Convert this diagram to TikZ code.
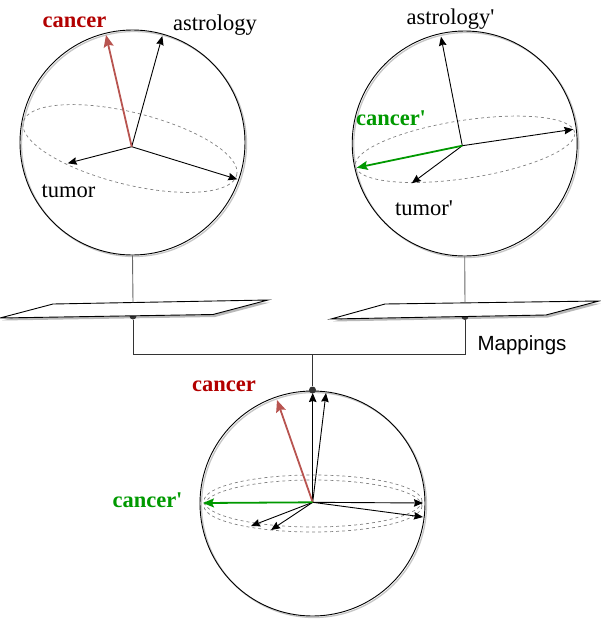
\documentclass[tikz,border=0pt]{standalone}
\usepackage{fontspec}
\setmainfont{Liberation Serif}
\newfontfamily\sansf{Liberation Sans}
\usetikzlibrary{arrows.meta}
\definecolor{redtxt}{HTML}{B20000}
\definecolor{redvec}{HTML}{B85450}
\definecolor{greenv}{HTML}{009900}
\definecolor{linegray}{HTML}{333333}
\begin{document}
\begin{tikzpicture}[x=1pt,y=-1pt,
 vec/.style={draw=black, line width=0.9pt, -{Stealth[length=9pt,width=7.5pt,inset=1pt]}},
 redarrow/.style={draw=redvec, line width=1.8pt, -{Stealth[length=12pt,width=10pt,inset=2pt]}},
 greenarrow/.style={draw=greenv, line width=1.8pt, -{Stealth[length=11pt,width=9pt,inset=2pt]}},
 eq/.style={draw=gray, dash pattern=on 3pt off 3pt, line width=0.7pt},
 sphere/.style={circle, draw=black, line width=0.9pt, minimum size=225pt, inner sep=0pt},
 sphshadow/.style={circle, draw=gray!45, line width=1.3pt, minimum size=225pt, inner sep=0pt},
 lbl/.style={font=\fontsize{22.5}{26}\selectfont, anchor=base, inner sep=0pt},
 blbl/.style={font=\fontsize{22.5}{26}\selectfont\bfseries, anchor=base, inner sep=0pt},
 slbl/.style={font=\sansf\fontsize{20.5}{24}\selectfont, anchor=base, inner sep=0pt},
 conn/.style={draw=linegray, line width=0.9pt},
 dot/.style={circle, fill=linegray, minimum size=7pt, inner sep=0pt},
 plane/.style={draw=black, fill=white, line width=0.9pt},
 planeshadow/.style={fill=gray!55, draw=none},
]
\useasboundingbox (0,0) rectangle (601,619);

% ---------- sphere 1 ----------
\node[sphshadow] (s1sh) at (134,144) {};
\node[sphere] (s1) at (132.5,142.5) {};
\draw[eq, rotate around={-14:(130,148.5)}] (130,148.5) ellipse [x radius=110pt, y radius=36pt];
\coordinate (o1) at (131.7,146.7);
\coordinate (t1a) at (162.3,36);
\coordinate (t1b) at (67.7,163.3);
\coordinate (t1c) at (237.3,179.3);
\coordinate (t1r) at (106,35);
\draw[vec] (o1) -- (t1a);
\draw[vec] (o1) -- (t1b);
\draw[vec] (o1) -- (t1c);
\draw[redarrow] (o1) -- (t1r);
\node[blbl, text=redtxt] (l1c) at (74.5,27) {cancer};
\node[lbl] (l1a) at (215,30) {astrology};
\node[lbl] (l1t) at (68.5,197) {tumor};

% ---------- sphere 2 ----------
\node[sphshadow] (s2sh) at (466.2,145) {};
\node[sphere] (s2) at (464.7,143.5) {};
\draw[eq, rotate around={8.7:(465,149.3)}] (465,149.3) ellipse [x radius=111pt, y radius=29pt];
\coordinate (o2) at (462.3,145.7);
\coordinate (t2a) at (441,36.7);
\coordinate (t2b) at (573.3,129.3);
\coordinate (t2t) at (411.7,183.3);
\coordinate (t2g) at (356.7,167.7);
\draw[vec] (o2) -- (t2a);
\draw[vec] (o2) -- (t2b);
\draw[vec] (o2) -- (t2t);
\draw[greenarrow] (o2) -- (t2g);
\node[lbl] (l2a) at (450.5,24) {astrology\textquotesingle};
\node[blbl, text=greenv] (l2c) at (391,125) {cancer\textquotesingle};
\node[lbl] (l2t) at (424,215) {tumor\textquotesingle};

% ---------- planes ----------
\fill[planeshadow] (2,320.5) -- (55,306.5) -- (270,302.5) -- (215,317) -- cycle;
\fill[planeshadow] (333,321.5) -- (387,306.5) -- (601,303.5) -- (548,317.5) -- cycle;
\node[dot] (d1) at (133,316) {};
\node[dot] (d2) at (465,316.5) {};
\draw[plane] (0,318) -- (53,304) -- (268,300) -- (213,314.5) -- cycle;
\draw[plane] (331,319) -- (385,304) -- (599,301) -- (546,315) -- cycle;
\coordinate (p1) at (133,302.5);
\coordinate (p2) at (465,302.9);
\draw[conn, draw=gray!80!black] (s1.south) -- (p1);
\draw[conn, draw=gray!80!black] (s2.south) -- (p2);

% ---------- sphere 3 ----------
\node[sphshadow] (s3sh) at (314,505) {};
\node[sphere] (s3) at (312.5,503.5) {};
\draw[eq] (313,501) ellipse [x radius=109pt, y radius=26pt];
\draw[eq] (313,506) ellipse [x radius=109pt, y radius=26pt];
\coordinate (o3) at (312.7,502.3);
\coordinate (t3u) at (312.7,393);
\coordinate (t3v) at (326,393);
\coordinate (t3r) at (277,400);
\coordinate (t3g) at (203,503);
\coordinate (t3e) at (423,503);
\coordinate (t3f) at (423,517);
\coordinate (t3l) at (251,526);
\coordinate (t3m) at (271,530);
\draw[vec] (o3) -- (t3u);
\draw[vec] (o3) -- (t3v);
\draw[vec] (o3) -- (t3e);
\draw[vec] (o3) -- (t3f);
\draw[vec] (o3) -- (t3l);
\draw[vec] (o3) -- (t3m);
\draw[redarrow] (o3) -- (t3r);
\draw[greenarrow] (o3) -- (t3g);
\node[blbl, text=redtxt] (l3c) at (224,391.7) {cancer};
\node[blbl, text=greenv] (l3g) at (147.5,507) {cancer\textquotesingle};

% ---------- mapping connectors ----------
\coordinate (j) at (312.5,354.5);
\node[dot] (d3) at (312.5,390) {};
\draw[conn] (d1) |- (j) -- (d3);
\draw[conn] (d2) |- (j);
\node[slbl] (map) at (522,350.7) {Mappings};
\end{tikzpicture}
\end{document}
